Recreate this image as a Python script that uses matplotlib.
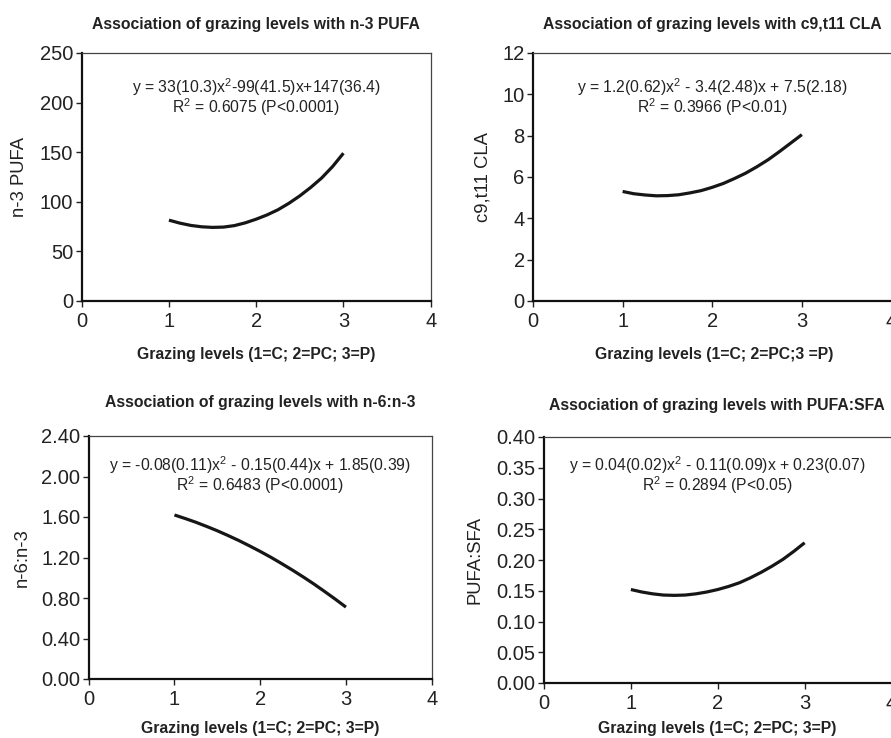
import matplotlib.pyplot as plt
import numpy as np
from matplotlib.ticker import FormatStrFormatter

plt.rcParams['font.family'] = ['Liberation Sans', 'DejaVu Sans']
plt.rcParams['mathtext.fontset'] = 'custom'
plt.rcParams['mathtext.rm'] = 'Liberation Sans'
plt.rcParams['mathtext.it'] = 'Liberation Sans:italic'

grazing = [1.0, 1.125, 1.25, 1.375, 1.5, 1.625, 1.75, 1.875, 2.0,
           2.125, 2.25, 2.375, 2.5, 2.625, 2.75, 2.875, 3.0]

n3_pufa = [81.5, 78.5, 76.2, 74.8, 74.2, 74.5, 76.0, 78.8, 82.5,
           86.8, 92.0, 98.5, 106.0, 114.5, 124.0, 135.5, 149.0]
cla = [5.30, 5.19, 5.13, 5.09, 5.10, 5.14, 5.23, 5.34, 5.50,
       5.69, 5.93, 6.19, 6.50, 6.84, 7.23, 7.64, 8.05]
n6_n3 = [1.620, 1.585, 1.548, 1.507, 1.464, 1.417, 1.368, 1.315, 1.260,
         1.202, 1.140, 1.076, 1.009, 0.939, 0.865, 0.789, 0.710]
pufa_sfa = [0.152, 0.148, 0.145, 0.143, 0.1425, 0.143, 0.145, 0.148, 0.152,
            0.157, 0.163, 0.171, 0.180, 0.190, 0.201, 0.214, 0.228]

titles = ['Association of grazing levels with n-3 PUFA',
          'Association of grazing levels with c9,t11 CLA',
          'Association of grazing levels with n-6:n-3',
          'Association of grazing levels with PUFA:SFA']
ylabels = ['n-3 PUFA', 'c9,t11 CLA', 'n-6:n-3', 'PUFA:SFA']
xlabels = ['Grazing levels (1=C; 2=PC; 3=P)',
           'Grazing levels (1=C; 2=PC;3 =P)',
           'Grazing levels (1=C; 2=PC; 3=P)',
           'Grazing levels (1=C; 2=PC; 3=P)']
equations = [
    ['y = 33(10.3)x$^{2}$-99(41.5)x+147(36.4)', 'R$^{2}$ = 0.6075 (P<0.0001)'],
    ['y = 1.2(0.62)x$^{2}$ - 3.4(2.48)x + 7.5(2.18)', 'R$^{2}$ = 0.3966 (P<0.01)'],
    ['y = -0.08(0.11)x$^{2}$ - 0.15(0.44)x + 1.85(0.39)', 'R$^{2}$ = 0.6483 (P<0.0001)'],
    ['y = 0.04(0.02)x$^{2}$ - 0.11(0.09)x + 0.23(0.07)', 'R$^{2}$ = 0.2894 (P<0.05)'],
]
y_ticks = [np.arange(0, 251, 50), np.arange(0, 13, 2),
           np.arange(0, 2.41, 0.4), np.arange(0, 0.401, 0.05)]
y_fmt = [None, None, '%.2f', '%.2f']
series = [n3_pufa, cla, n6_n3, pufa_sfa]

W, H = 891, 738
fig = plt.figure(figsize=(W / 100, H / 100), dpi=100)

# pixel boxes: left, right, top, bottom of plot area
boxes = [(81.7, 430.7, 53, 301), (533, 891.5, 53, 301),
         (88.7, 431.7, 436, 679), (544, 891.5, 437, 683)]
title_pos = [(256, 24), (712, 24), (260, 402), (717, 405)]
xlab_pos = [(256, 354), (714, 354), (260, 729), (717, 729)]
ylab_pos = [(20, 177), (483, 177), (22, 558), (475, 560)]
eq_pos = [(0.861, 0.780), (0.861, 0.780), (0.879, 0.796), (0.884, 0.803)]

for i in range(4):
    l, r, t, b = boxes[i]
    ax = fig.add_axes([l / W, 1 - b / H, (r - l) / W, (b - t) / H])
    ax.plot(grazing, series[i], color='#161616', lw=2.3,
            solid_capstyle='butt', solid_joinstyle='round')
    ax.set_xlim(0, 4)
    ax.set_xticks([0, 1, 2, 3, 4])
    ax.set_yticks(y_ticks[i])
    ax.set_ylim(y_ticks[i][0], y_ticks[i][-1])
    if y_fmt[i]:
        ax.yaxis.set_major_formatter(FormatStrFormatter(y_fmt[i]))
    ax.tick_params(labelsize=14.5, length=4, width=1, direction='out',
                   colors='#222222')
    ax.tick_params(axis='x', pad=4)
    ax.tick_params(axis='y', pad=2)
    for s in ['left', 'bottom']:
        ax.spines[s].set_linewidth(1.6)
        ax.spines[s].set_color('#111111')
    for s in ['top', 'right']:
        ax.spines[s].set_linewidth(0.9)
        ax.spines[s].set_color('#444444')
    ax.text(0.5, eq_pos[i][0], equations[i][0], transform=ax.transAxes,
            ha='center', va='center', fontsize=11.3, color='#222222')
    ax.text(0.5, eq_pos[i][1], equations[i][1], transform=ax.transAxes,
            ha='center', va='center', fontsize=11.3, color='#222222')

    fig.text(title_pos[i][0] / W, 1 - title_pos[i][1] / H, titles[i],
             ha='center', va='center', fontsize=11.3, fontweight='bold',
             color='#222222')
    fig.text(xlab_pos[i][0] / W, 1 - xlab_pos[i][1] / H, xlabels[i],
             ha='center', va='center', fontsize=11.3, fontweight='bold',
             color='#222222')
    fig.text(ylab_pos[i][0] / W, 1 - ylab_pos[i][1] / H, ylabels[i],
             ha='center', va='center', fontsize=13.3, rotation=90,
             color='#222222')

fig.savefig('out.png', dpi=100)
